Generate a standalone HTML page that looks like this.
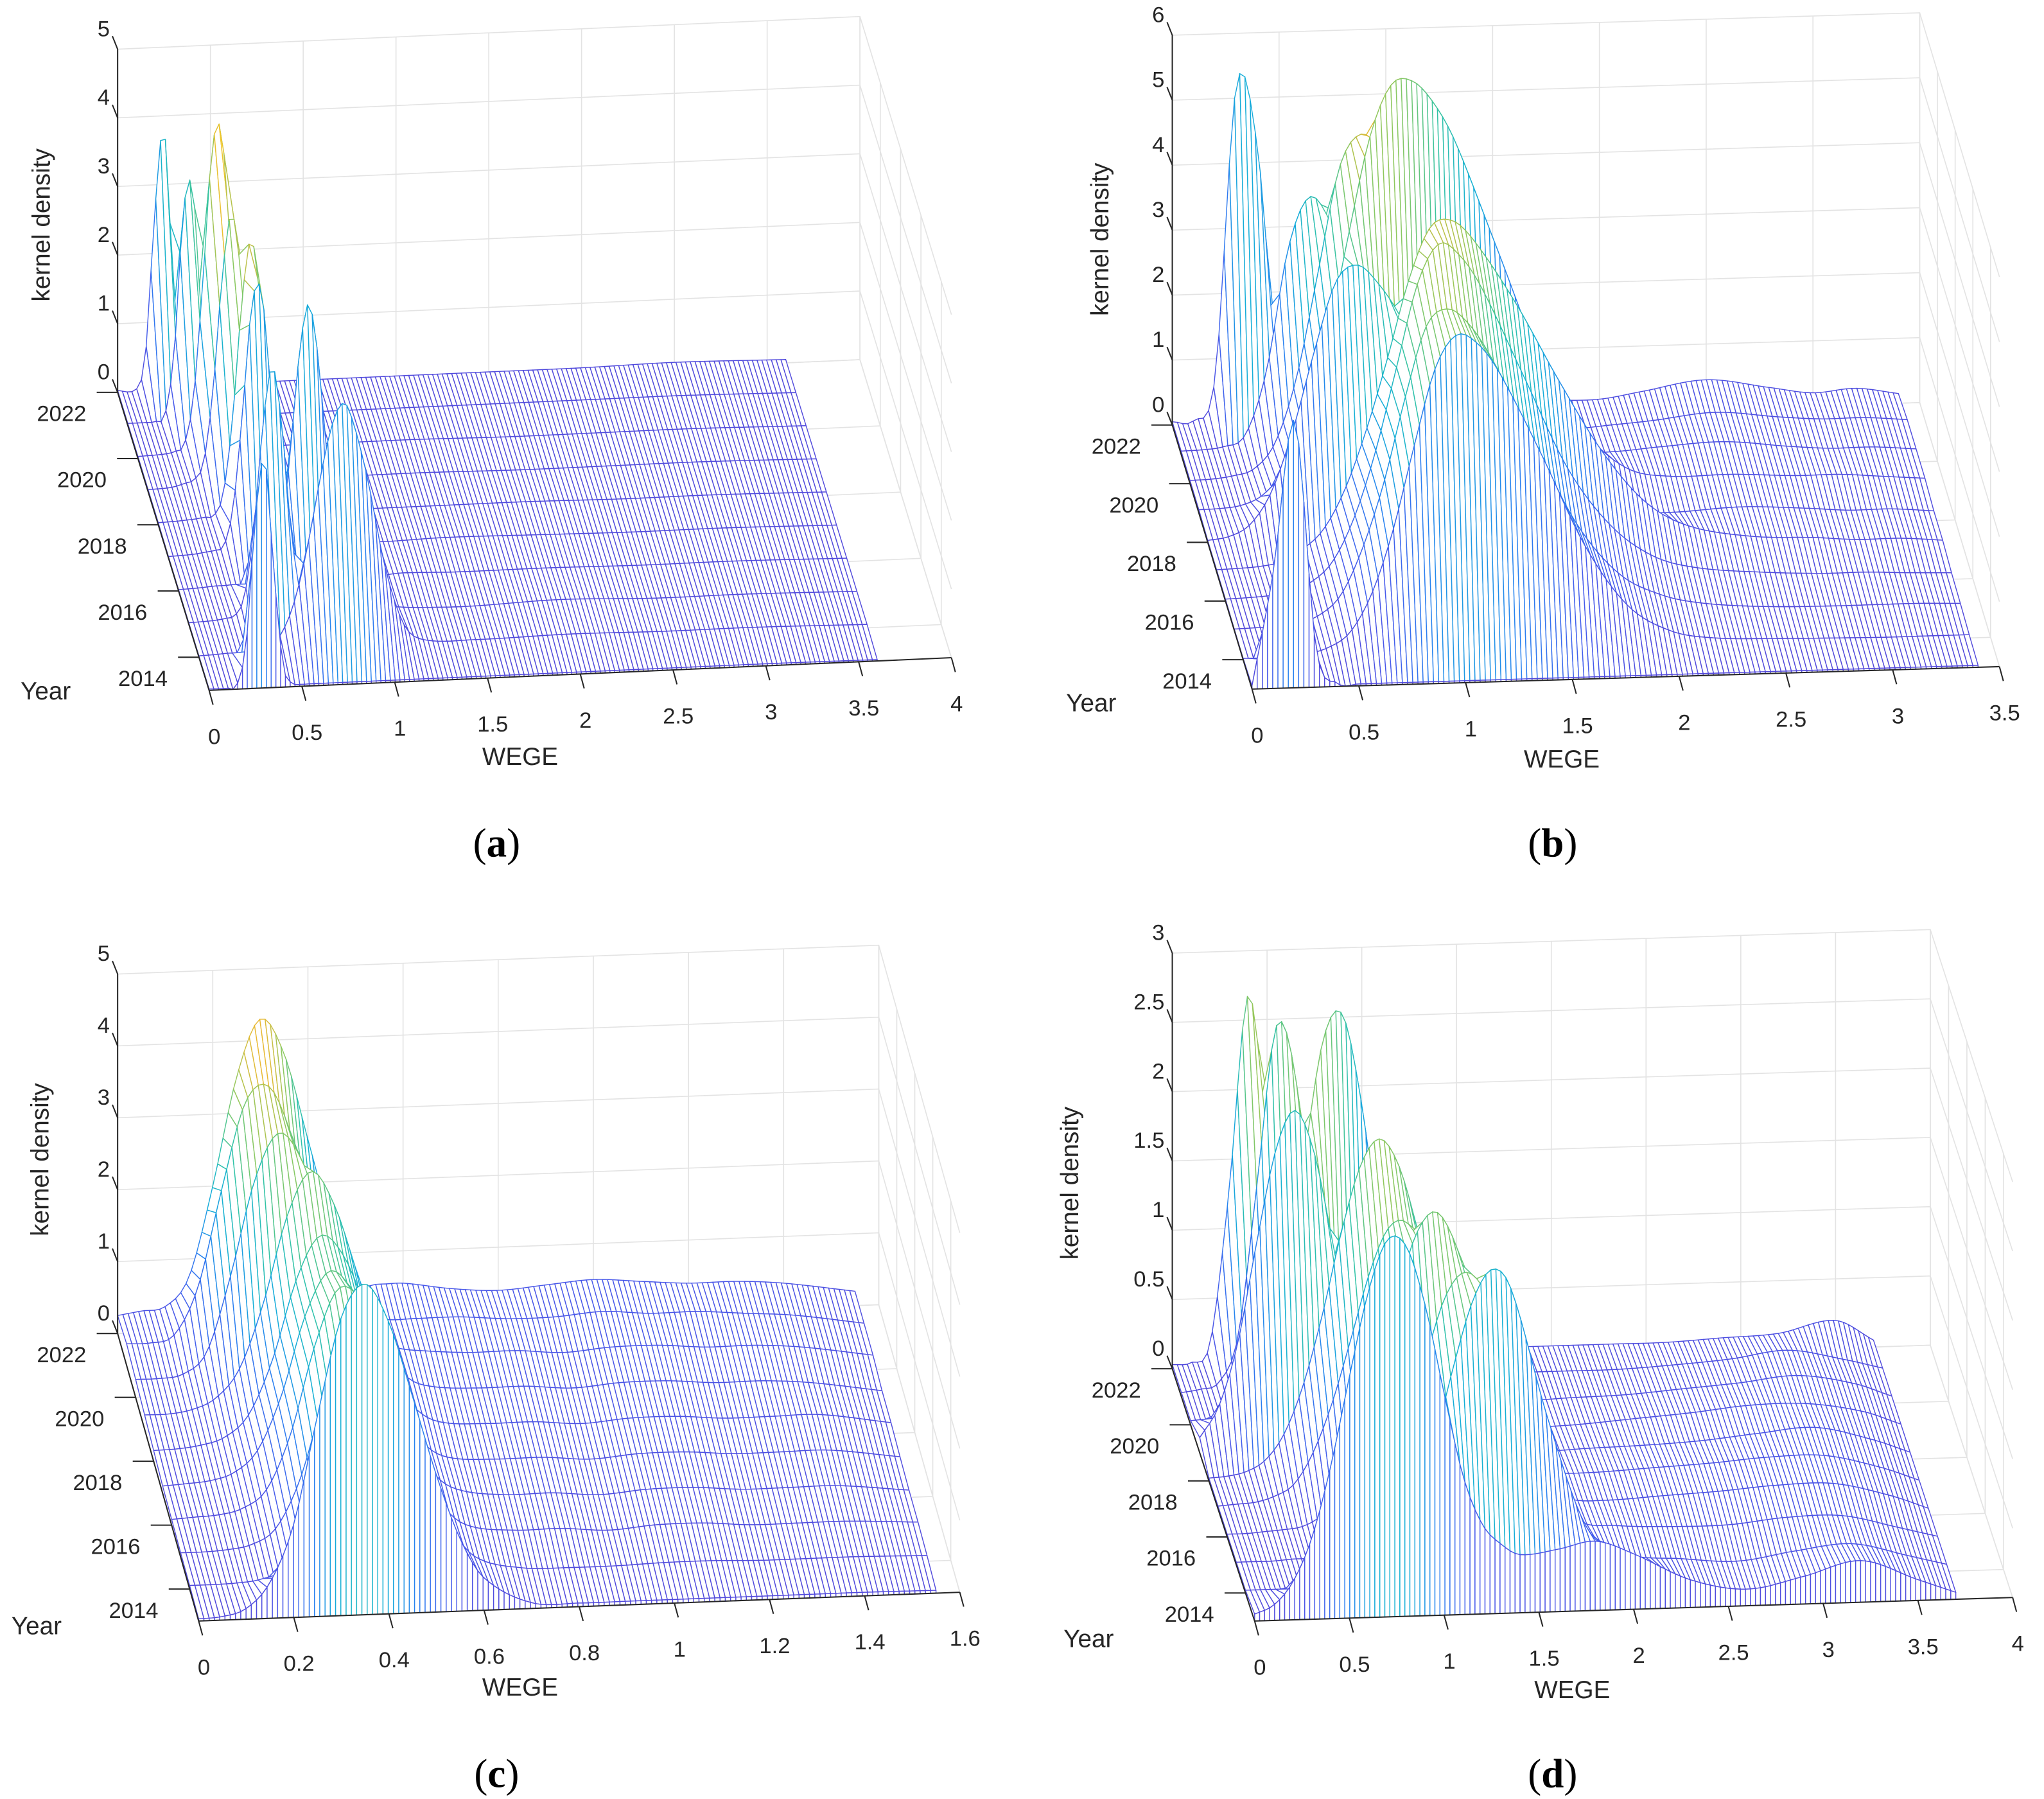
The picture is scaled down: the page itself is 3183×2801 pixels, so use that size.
<!DOCTYPE html>
<html><head><meta charset="utf-8"><title>Kernel density waterfall plots</title>
<style>html,body{margin:0;padding:0;background:#fff}svg{display:block}
.tk{font-family:"Liberation Sans",sans-serif;font-size:17px;fill:#262626}
.tt{font-family:"Liberation Sans",sans-serif;font-size:19px;fill:#262626}
.pl{font-family:"Liberation Serif",serif;font-size:31px;fill:#000}</style></head>
<body>
<svg id="fig" xmlns="http://www.w3.org/2000/svg" width="3183" height="2801" viewBox="0 0 1564 1376">
<rect x="0" y="0" width="1564" height="1376" fill="#fff"/>
</svg>
<script>
const years = [2013,2014,2015,2016,2017,2018,2019,2020,2021,2022];
const yearTicks = [2014,2016,2018,2020,2022];

const aX = [0,0.1,0.15,0.2,0.25,0.3,0.35,0.4,0.45,0.5,0.55,0.6,0.65,0.7,0.75,0.8,0.9,1.0,1.1,1.2,1.5,2.0,2.5,3.0,3.6];
const aDens = [
[0.02,0.02,0.06,0.67,2.5,3.33,1.65,0.3,0.05,0.03,0.03,0.03,0.03,0.03,0.03,0.03,0.03,0.03,0.03,0.03,0.03,0.03,0.03,0.03,0.02],
[0.02,0.03,0.04,0.04,0.05,0.05,0.06,0.14,0.32,0.63,1.11,1.75,2.48,3.12,3.53,3.56,2.6,1.23,0.37,0.12,0.08,0.1,0.08,0.08,0.05],
[0.02,0.03,0.04,0.06,0.1,0.37,1.33,2.87,3.7,2.87,1.33,0.4,0.15,0.1,0.1,0.1,0.1,0.1,0.12,0.1,0.08,0.12,0.08,0.08,0.05],
[0.02,0.03,0.04,0.05,0.05,0.06,0.06,0.06,0.08,0.18,0.7,1.9,3.36,4.1,3.36,1.9,0.2,0.1,0.1,0.12,0.1,0.1,0.08,0.08,0.05],
[0.02,0.03,0.04,0.06,0.08,0.15,0.72,2.1,3.65,3.84,2.43,0.92,0.25,0.1,0.1,0.1,0.12,0.1,0.1,0.1,0.12,0.1,0.08,0.08,0.05],
[0.03,0.04,0.05,0.06,0.08,0.1,0.41,1.48,3.18,4.1,3.18,1.48,0.41,0.12,0.1,0.1,0.1,0.1,0.1,0.1,0.1,0.1,0.08,0.08,0.05],
[0.03,0.04,0.06,0.1,0.15,0.4,1.44,3.1,4.0,3.1,1.44,0.4,0.12,0.1,0.1,0.1,0.1,0.1,0.1,0.1,0.1,0.08,0.08,0.08,0.05],
[0.03,0.04,0.05,0.08,0.18,0.87,2.55,4.47,4.7,2.96,1.13,0.27,0.1,0.1,0.1,0.1,0.1,0.1,0.1,0.1,0.1,0.08,0.08,0.08,0.05],
[0.03,0.03,0.04,0.13,1.03,3.1,3.4,1.4,0.2,0.08,0.08,0.08,0.08,0.08,0.08,0.08,0.08,0.08,0.08,0.08,0.08,0.08,0.08,0.08,0.05],
[0.03,0.03,0.53,2.6,3.8,1.6,0.2,0.06,0.06,0.06,0.06,0.06,0.06,0.06,0.06,0.06,0.06,0.06,0.06,0.06,0.06,0.06,0.06,0.08,0.05]];

const bX = [0,0.1,0.2,0.3,0.4,0.5,0.6,0.7,0.8,0.9,1.0,1.1,1.2,1.4,1.6,1.8,2.0,2.2,2.5,2.8,3.0,3.2,3.4];
const bDens = [
[0.05,1.8,4.1,0.6,0.05,0.03,0.03,0.03,0.03,0.03,0.03,0.03,0.03,0.03,0.03,0.03,0.03,0.03,0.03,0.03,0.03,0.03,0.03],
[0.02,0.02,0.03,0.06,0.15,0.37,0.94,1.9,3.2,4.4,4.9,4.75,4.3,3.0,1.6,0.66,0.25,0.12,0.08,0.06,0.05,0.05,0.05],
[0.02,0.03,0.04,0.08,0.2,0.5,1.2,2.2,3.5,4.6,4.85,4.6,4.1,2.8,1.5,0.7,0.35,0.2,0.12,0.1,0.1,0.1,0.08],
[0.03,0.04,0.06,0.1,0.25,0.55,1.2,2.2,3.5,4.8,5.4,5.2,4.7,3.3,1.9,1.0,0.5,0.3,0.2,0.15,0.15,0.12,0.1],
[0.03,0.04,0.06,0.12,0.3,0.6,1.2,2.1,3.2,4.4,5.2,5.3,5.0,4.0,2.8,1.7,0.9,0.5,0.3,0.25,0.2,0.2,0.15],
[0.03,0.08,0.26,0.76,1.7,2.9,3.95,4.2,3.9,3.4,2.7,2.0,1.4,0.65,0.35,0.25,0.25,0.25,0.3,0.25,0.2,0.2,0.15],
[0.05,0.06,0.1,0.25,0.64,1.4,2.6,4.2,5.7,6.5,6.55,6.2,5.6,3.9,2.2,1.1,0.5,0.35,0.35,0.3,0.3,0.25,0.2],
[0.05,0.06,0.1,0.2,0.6,1.6,3.2,4.8,5.3,5.0,4.3,3.5,2.6,1.1,0.45,0.3,0.3,0.35,0.4,0.3,0.25,0.25,0.2],
[0.05,0.06,0.1,0.27,1.25,3.1,3.9,3.5,2.6,1.7,0.95,0.5,0.3,0.2,0.2,0.2,0.25,0.3,0.4,0.3,0.25,0.25,0.2],
[0.05,0.06,0.7,5.2,4.2,0.5,0.3,0.25,0.25,0.2,0.2,0.2,0.2,0.2,0.2,0.2,0.2,0.3,0.45,0.3,0.2,0.25,0.15]];

const cX = [0,0.05,0.1,0.15,0.2,0.25,0.3,0.35,0.4,0.45,0.5,0.55,0.6,0.7,0.8,0.9,1.0,1.1,1.2,1.3,1.4,1.55];
const cDens = [
[0.03,0.05,0.15,0.5,1.3,2.8,4.15,4.6,4.05,3.0,1.9,1.0,0.45,0.08,0.05,0.05,0.05,0.05,0.05,0.05,0.05,0.04],
[0.05,0.05,0.06,0.1,0.25,0.84,1.9,2.9,3.0,2.4,1.5,0.73,0.3,0.12,0.1,0.1,0.12,0.12,0.1,0.1,0.1,0.08],
[0.06,0.06,0.08,0.14,0.35,1.0,2.1,2.95,2.9,2.2,1.3,0.6,0.3,0.2,0.2,0.15,0.2,0.2,0.15,0.15,0.15,0.1],
[0.08,0.1,0.12,0.2,0.45,1.2,2.4,3.2,3.0,2.2,1.3,0.6,0.35,0.25,0.25,0.2,0.25,0.25,0.2,0.2,0.2,0.1],
[0.1,0.12,0.15,0.25,0.55,1.3,2.4,3.0,2.7,1.9,1.1,0.55,0.35,0.3,0.3,0.25,0.3,0.3,0.25,0.25,0.25,0.12],
[0.15,0.16,0.2,0.3,0.6,1.35,2.45,3.05,2.75,1.95,1.1,0.6,0.4,0.35,0.35,0.3,0.35,0.35,0.3,0.3,0.3,0.15],
[0.2,0.2,0.25,0.4,0.8,1.7,2.9,3.5,3.0,2.0,1.1,0.6,0.45,0.4,0.4,0.35,0.4,0.4,0.35,0.35,0.3,0.15],
[0.25,0.25,0.3,0.6,1.65,2.95,3.6,3.2,2.2,1.2,0.7,0.55,0.5,0.45,0.45,0.4,0.45,0.45,0.4,0.4,0.35,0.2],
[0.3,0.3,0.4,1.05,2.4,3.6,3.8,3.05,1.9,0.95,0.6,0.5,0.5,0.5,0.45,0.45,0.5,0.45,0.45,0.4,0.35,0.2],
[0.25,0.3,0.35,0.75,2.0,3.5,4.3,3.8,2.6,1.4,0.6,0.55,0.55,0.45,0.4,0.45,0.5,0.45,0.4,0.4,0.35,0.2]];

const dX = [0,0.1,0.2,0.3,0.4,0.5,0.6,0.7,0.8,0.9,1.0,1.1,1.2,1.3,1.4,1.6,1.8,2.0,2.3,2.6,2.9,3.2,3.5,3.7];
const dDens = [
[0.05,0.11,0.27,0.58,1.09,1.74,2.35,2.72,2.67,2.24,1.6,1.0,0.65,0.5,0.42,0.45,0.5,0.4,0.2,0.12,0.2,0.3,0.15,0.05],
[0.02,0.02,0.02,0.02,0.03,0.03,0.04,0.12,0.28,0.6,1.06,1.6,2.06,2.28,2.14,1.17,0.4,0.2,0.15,0.12,0.18,0.22,0.12,0.05],
[0.02,0.02,0.02,0.03,0.03,0.04,0.11,0.25,0.55,0.97,1.45,1.88,2.06,1.95,1.6,0.6,0.25,0.2,0.18,0.18,0.22,0.22,0.12,0.05],
[0.02,0.02,0.03,0.04,0.06,0.14,0.34,0.68,1.17,1.72,2.15,2.3,2.08,1.62,1.06,0.35,0.2,0.18,0.2,0.22,0.25,0.25,0.15,0.05],
[0.02,0.03,0.04,0.08,0.16,0.38,0.73,1.19,1.67,1.99,2.02,1.75,1.3,0.82,0.45,0.2,0.18,0.18,0.2,0.22,0.25,0.25,0.15,0.05],
[0.02,0.03,0.06,0.14,0.33,0.68,1.18,1.77,2.24,2.43,2.24,1.77,1.18,0.68,0.35,0.15,0.14,0.15,0.16,0.18,0.22,0.25,0.15,0.05],
[0.11,0.33,0.78,1.5,2.16,2.45,2.16,1.5,0.78,0.33,0.15,0.1,0.1,0.1,0.1,0.1,0.11,0.12,0.15,0.18,0.22,0.22,0.15,0.05],
[0.03,0.04,0.06,0.1,0.36,0.96,1.9,2.75,2.93,2.3,1.3,0.55,0.17,0.1,0.1,0.1,0.1,0.11,0.12,0.15,0.18,0.22,0.15,0.05],
[0.03,0.05,0.1,0.43,1.53,2.65,2.3,1.0,0.22,0.1,0.1,0.1,0.1,0.1,0.1,0.1,0.1,0.1,0.1,0.12,0.15,0.2,0.12,0.05],
[0.03,0.04,0.18,1.28,2.68,1.65,0.3,0.1,0.08,0.08,0.08,0.08,0.08,0.08,0.08,0.08,0.08,0.08,0.08,0.08,0.1,0.12,0.2,0.05]];

const aXTicks = [0,0.5,1,1.5,2,2.5,3,3.5,4];
const bXTicks = [0,0.5,1,1.5,2,2.5,3,3.5];
const cXTicks = [0,0.2,0.4,0.6,0.8,1,1.2,1.4,1.6];
const dXTicks = [0,0.5,1,1.5,2,2.5,3,3.5,4];
const aZTicks = [0,1,2,3,4,5];
const bZTicks = [0,1,2,3,4,5,6];
const cZTicks = [0,1,2,3,4,5];
const dZTicks = [0,0.5,1,1.5,2,2.5,3];

const panels = [
 {id:'a', xs:aX, dens:aDens, xt:aXTicks, zt:aZTicks, O:[160,528], ex:[142,-6.25], et:[-70,-228], ez:[0,-52.5],
  lab:[380,655], wege:[398,585], year:[35,535], kd:[38,172]},
 {id:'b', xs:bX, dens:bDens, xt:bXTicks, zt:bZTicks, O:[958,527], ex:[163.4,-4.9], et:[-61,-202], ez:[0,-49.7],
  lab:[1188,655], wege:[1195,587], year:[835,544], kd:[848,183]},
 {id:'c', xs:cX, dens:cDens, xt:cXTicks, zt:cZTicks, O:[152,1240], ex:[364,-13.75], et:[-62,-220], ez:[0,-55],
  lab:[380,1367], wege:[398,1297], year:[28,1250], kd:[37,887]},
 {id:'d', xs:dX, dens:dDens, xt:dXTicks, zt:dZTicks, O:[960,1240], ex:[145,-4.5], et:[-63,-193], ez:[0,-106],
  lab:[1188,1367], wege:[1203,1299], year:[833,1260], kd:[825,905]}
];

const NS = 'http://www.w3.org/2000/svg';
const svg = document.getElementById('fig');
function mk(tag, attrs, parent){ const e=document.createElementNS(NS,tag); for(const k in attrs) e.setAttribute(k,attrs[k]); parent.appendChild(e); return e; }

const cmap = [[0,[82,72,218]],[0.12,[70,90,235]],[0.3,[40,130,240]],[0.45,[20,175,215]],[0.6,[50,195,165]],[0.75,[140,200,95]],[0.88,[235,185,50]],[1,[250,245,25]]];
function color(v){ v=Math.max(0,Math.min(1,v)); for(let i=1;i<cmap.length;i++){ if(v<=cmap[i][0]){ const a=cmap[i-1],b=cmap[i],f=(v-a[0])/(b[0]-a[0]); const c=a[1].map((q,k)=>Math.round(q+(b[1][k]-q)*f)); return 'rgb('+c.join(',')+')'; } } return 'rgb(250,245,25)'; }

function interp(xs, ys, x){
  const n=xs.length; let k=0; while(k<n-2 && x>xs[k+1]) k++;
  const x0=xs[k],x1=xs[k+1],y0=ys[k],y1=ys[k+1],h=x1-x0;
  const sl=(i)=>{ if(i<=0) return (ys[1]-ys[0])/(xs[1]-xs[0]); if(i>=n-1) return (ys[n-1]-ys[n-2])/(xs[n-1]-xs[n-2]); return (ys[i+1]-ys[i-1])/(xs[i+1]-xs[i-1]); };
  const m0=sl(k)*h, m1=sl(k+1)*h, t=(x-x0)/h, t2=t*t, t3=t2*t;
  const v=(2*t3-3*t2+1)*y0+(t3-2*t2+t)*m0+(-2*t3+3*t2)*y1+(t3-t2)*m1;
  return Math.max(0,v);
}
function fmt(v){ return String(v); }

panels.forEach(p=>{
  const g = mk('g',{},svg);
  
  
  const xmax = p.xt[p.xt.length-1], zmax = p.zt[p.zt.length-1];
  const P = (x,t,z)=>[p.O[0]+x*p.ex[0]+t*p.et[0]+z*p.ez[0], p.O[1]+x*p.ex[1]+t*p.et[1]+z*p.ez[1]];
  const yT = (yr)=>(yr-years[0])/(years[years.length-1]-years[0]);
  const pt = (a)=>a[0].toFixed(2)+','+a[1].toFixed(2);
  const grid = mk('g',{stroke:'#e3e3e3','stroke-width':'0.8',fill:'none'},g);
  
  
  p.xt.forEach(x=>{ mk('polyline',{points:[P(x,0,0),P(x,1,0),P(x,1,zmax)].map(pt).join(' ')},grid); });
  yearTicks.forEach(yr=>{ mk('polyline',{points:[P(0,yT(yr),0),P(xmax,yT(yr),0)].map(pt).join(' ')},grid); });
  p.zt.forEach(z=>{ mk('polyline',{points:[P(0,1,z),P(xmax,1,z),P(xmax,0,z)].map(pt).join(' ')},grid); });
  yearTicks.forEach(yr=>{ mk('polyline',{points:[P(xmax,yT(yr),0),P(xmax,yT(yr),zmax)].map(pt).join(' ')},grid); });
  mk('polyline',{points:[P(0,1,0),P(0,1,zmax)].map(pt).join(' ')},grid);
  const xs=p.xs, xe=xs[xs.length-1], N=140;
  const fx=[]; for(let j=0;j<=N;j++) fx.push(xe*j/N);
  const rows = p.dens.map(r=>fx.map(x=>interp(xs,r,x)));
  let dmax=0; p.dens.forEach(r=>r.forEach(v=>{ if(v>dmax) dmax=v; }));
  const surf = mk('g',{'stroke-width':'0.7','stroke-linejoin':'round',fill:'#fff'},g);
  
  
  for(let i=rows.length-1;i>=1;i--){
    const strip = mk('g',{},surf);
    
    
    const tb=yT(years[i]), tf=yT(years[i-1]);
    for(let j=0;j<N;j++){
      const a=P(fx[j],tb,rows[i][j]), b=P(fx[j+1],tb,rows[i][j+1]), c=P(fx[j+1],tf,rows[i-1][j+1]), d=P(fx[j],tf,rows[i-1][j]);
      const zv=(rows[i][j]+rows[i][j+1]+rows[i-1][j]+rows[i-1][j+1])/4;
      const q=mk('polygon',{points:[a,b,c,d].map(pt).join(' '),stroke:color(zv/dmax)},strip);
      
      
    }
  }
  const front = mk('g',{},surf);
  
  
  for(let j=0;j<N;j++){
    const a=P(fx[j],0,rows[0][j]), b=P(fx[j+1],0,rows[0][j+1]), c=P(fx[j+1],0,0), d=P(fx[j],0,0);
    const zv=(rows[0][j]+rows[0][j+1])/4;
    const q=mk('polygon',{points:[a,b,c,d].map(pt).join(' '),stroke:color(zv/dmax)},front);
    
    
  }
  const ax = mk('g',{stroke:'#262626','stroke-width':'1',fill:'none'},g);
  
  
  mk('polyline',{points:[P(0,0,0),P(xmax,0,0)].map(pt).join(' ')},ax);
  mk('polyline',{points:[P(0,0,0),P(0,1,0)].map(pt).join(' ')},ax);
  mk('polyline',{points:[P(0,1,0),P(0,1,zmax)].map(pt).join(' ')},ax);
  const lab = mk('g',{},g);
  
  
  p.xt.forEach(x=>{
    const q=P(x,0,0);
    mk('line',{x1:q[0],y1:q[1],x2:q[0]+3,y2:q[1]+11},ax);
    const t=mk('text',{x:q[0]+4,y:q[1]+41,'text-anchor':'middle',class:'tk'},lab);
    t.textContent=fmt(x);
    
    
  });
  yearTicks.forEach(yr=>{
    const q=P(0,yT(yr),0);
    mk('line',{x1:q[0],y1:q[1],x2:q[0]-16,y2:q[1]},ax);
    const t=mk('text',{x:q[0]-24,y:q[1]+22,'text-anchor':'end',class:'tk'},lab);
    t.textContent=String(yr);
    
    
  });
  p.zt.forEach(z=>{
    const q=P(0,1,z);
    mk('line',{x1:q[0],y1:q[1],x2:q[0]-4,y2:q[1]-10},ax);
    const t=mk('text',{x:q[0]-6,y:q[1]-10,'text-anchor':'end',class:'tk'},lab);
    t.textContent=fmt(z);
    
    
  });
  const w=mk('text',{x:p.wege[0],y:p.wege[1],'text-anchor':'middle',class:'tt'},g);
  w.textContent='WEGE';
  
  
  const yy=mk('text',{x:p.year[0],y:p.year[1],'text-anchor':'middle',class:'tt'},g);
  yy.textContent='Year';
  
  
  const kd=mk('text',{x:p.kd[0],y:p.kd[1],'text-anchor':'middle',class:'tt',transform:'rotate(-90 '+p.kd[0]+' '+p.kd[1]+')'},g);
  kd.textContent='kernel density';
  
  
  const pl=mk('text',{x:p.lab[0],y:p.lab[1],'text-anchor':'middle',class:'pl'},g);
  pl.innerHTML='(<tspan font-weight="bold">'+p.id+'</tspan>)';
  
  
});
</script>
</body></html>
